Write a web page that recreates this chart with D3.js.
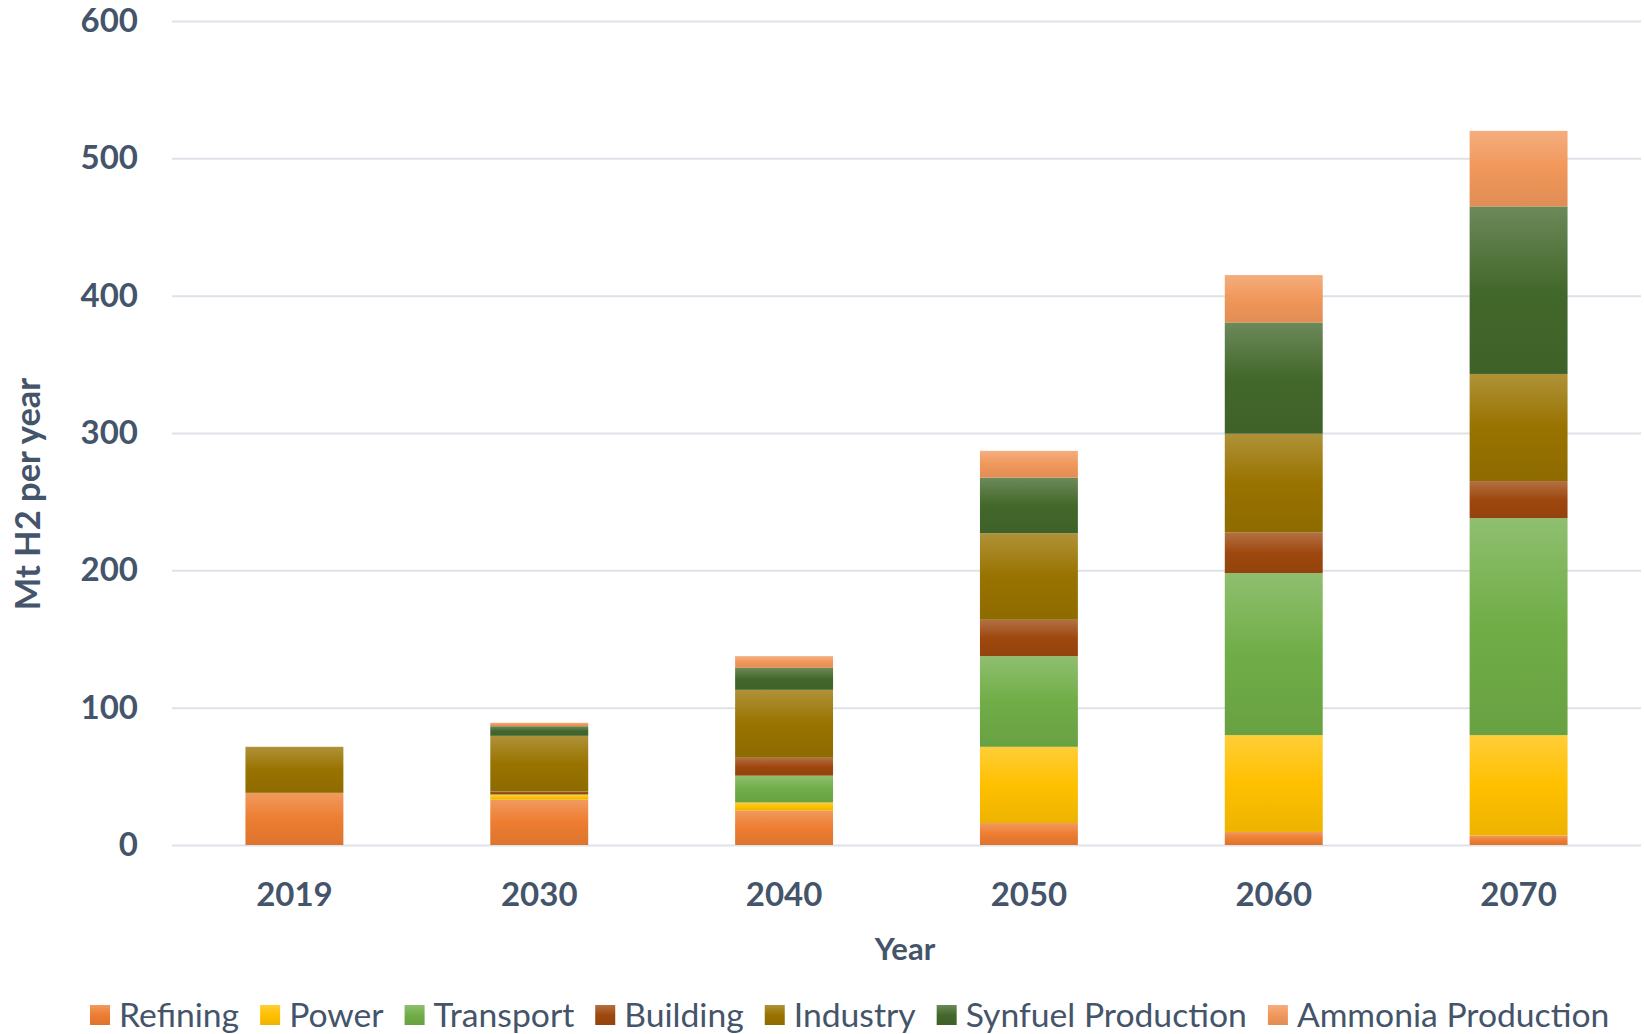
<!DOCTYPE html>
<html>
<head>
<meta charset="utf-8">
<script src="https://cdn.jsdelivr.net/npm/d3@7"></script>
<style>
  html, body { margin: 0; padding: 0; background: #ffffff; }
  svg { display: block; }
  text { font-family: Lato, "Open Sans", sans-serif; fill: #44546A; }
</style>
</head>
<body>
<svg id="chart" width="1644" height="1034"></svg>
<script>
// Hydrogen demand by end use, Mt H2 per year
const years = ["2019", "2030", "2040", "2050", "2060", "2070"];
const refining  = [38,   33,  25,   16,   9.5,   7];
const power     = [0,    3.5, 6,    55.5, 70.5,  73];
const transport = [0,    0.5, 19.5, 66,   118,   158];
const building  = [0,    2,   13,   26.5, 29.5,  27];
const industry  = [33.5, 40.5, 49.5, 63,  72,    78];
const synfuel   = [0,    7,   16,   40.5, 81,    122];
const ammonia   = [0,    2.5, 8.5,  19.5, 34.5,  55];

const seriesNames = ["Refining", "Power", "Transport", "Building", "Industry", "Synfuel Production", "Ammonia Production"];
const seriesValues = [refining, power, transport, building, industry, synfuel, ammonia];
const seriesColors = ["#ED7D31", "#FFC000", "#70AD47", "#9E480E", "#997300", "#43682B", "#F1975A"];
const yTicks = [0, 100, 200, 300, 400, 500, 600];

const rows = years.map((yr, i) => {
  const r = { year: yr };
  seriesNames.forEach((s, k) => { r[s] = seriesValues[k][i]; });
  return r;
});

const svg = d3.select("#chart");
const plotLeft = 172, plotRight = 1641, plotTop = 21, plotBottom = 845;

const x = d3.scaleBand().domain(years).range([plotLeft, plotRight]).paddingInner(0.6).paddingOuter(0.3);
const y = d3.scaleLinear().domain([0, 600]).range([plotBottom, plotTop]);

// vertical shading for each series: lighter at the top, deeper at the bottom
const defs = svg.append("defs");
seriesNames.forEach((s, k) => {
  const base = d3.color(seriesColors[k]);
  const g = defs.append("linearGradient").attr("id", "grad" + k)
    .attr("x1", 0).attr("y1", 0).attr("x2", 0).attr("y2", 1);
  g.append("stop").attr("offset", "0%").attr("stop-color", d3.interpolateRgb(base, "#ffffff")(0.22));
  g.append("stop").attr("offset", "50%").attr("stop-color", base.formatHex());
  g.append("stop").attr("offset", "100%").attr("stop-color", base.darker(0.2).formatHex());
});

// y axis with gridlines
const yAxis = svg.append("g")
  .attr("transform", `translate(${plotLeft},0)`)
  .call(d3.axisLeft(y).tickValues(yTicks).tickSize(-(plotRight - plotLeft)).tickPadding(34));
yAxis.select(".domain").remove();
yAxis.selectAll(".tick line").attr("stroke", "#DDE2E9").attr("stroke-width", 2);
yAxis.selectAll(".tick text")
  .style("font-size", "33px").style("font-weight", "700").attr("fill", "#44546A");

// stacked bars
const stacked = d3.stack().keys(seriesNames)(rows);
svg.append("g").selectAll("g")
  .data(stacked)
  .join("g")
  .attr("fill", (d, k) => `url(#grad${k})`)
  .selectAll("rect")
  .data(d => d)
  .join("rect")
  .attr("x", d => x(d.data.year))
  .attr("width", x.bandwidth())
  .attr("y", d => y(d[1]))
  .attr("height", d => Math.max(0, y(d[0]) - y(d[1])));

// x axis labels
const xAxis = svg.append("g")
  .attr("transform", `translate(0,894)`)
  .call(d3.axisBottom(x).tickSize(0).tickPadding(0));
xAxis.select(".domain").remove();
xAxis.selectAll(".tick text")
  .attr("y", 0).attr("dy", "0.36em")
  .style("font-size", "33px").style("font-weight", "700").attr("fill", "#44546A");

// axis titles
svg.append("text")
  .attr("x", 905).attr("y", 949).attr("dy", "0.36em")
  .attr("text-anchor", "middle")
  .style("font-size", "31px").style("font-weight", "700")
  .text("Year");

svg.append("text")
  .attr("transform", "translate(28,494) rotate(-90)")
  .attr("dy", "0.36em")
  .attr("text-anchor", "middle")
  .style("font-size", "34.5px").style("font-weight", "700")
  .text("Mt H2 per year");

// legend
const legend = svg.append("g").attr("transform", "translate(90,1015)");
let lx = 0;
seriesNames.forEach((s, k) => {
  const item = legend.append("g").attr("transform", `translate(${lx},0)`);
  item.append("rect").attr("x", 0).attr("y", -10).attr("width", 20).attr("height", 20)
    .attr("fill", `url(#grad${k})`);
  const t = item.append("text").attr("x", 29).attr("y", 0).attr("dy", "0.36em")
    .style("font-size", "33.7px").text(s);
  lx += 29 + t.node().getComputedTextLength() + 21;
});
</script>
</body>
</html>
